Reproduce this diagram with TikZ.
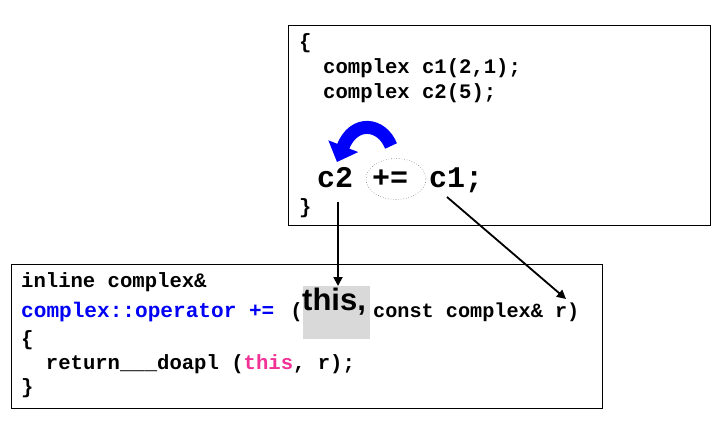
\documentclass[tikz,border=0pt]{standalone}
\usepackage{fontspec}
\usetikzlibrary{arrows.meta,shapes.geometric}
\newfontfamily\cour{Liberation Mono}
\newfontfamily\arialf{Liberation Sans}
\definecolor{codeblue}{RGB}{0,0,245}
\definecolor{codepink}{RGB}{240,50,150}
\definecolor{hlgray}{RGB}{217,217,217}
\definecolor{arrowblue}{RGB}{0,0,250}
\tikzset{
  code/.style={inner sep=0pt, anchor=base west, font=\cour\bfseries\fontsize{20.6}{23}\selectfont},
  bigcode/.style={inner sep=0pt, anchor=base west, font=\cour\bfseries\fontsize{30}{32}\selectfont},
  panel/.style={draw=black, line width=1pt},
  pointer/.style={draw=black, line width=1.8pt, -{Triangle[length=9,width=9]}},
}
\begin{document}
\begin{tikzpicture}[x=1pt,y=-1pt]
\useasboundingbox (0,0) rectangle (724,424);
% top panel
\draw[panel] (288,25) rectangle (710,225);
\node[code] (tob) at (299,48) {\{};
\node[code] (tl1) at (323,73) {complex c1(2,1);};
\node[code] (tl2) at (323,98) {complex c2(5);};
\node[code] (tcb) at (299,213) {\}};
\node[bigcode] (c2) at (317,187) {c2};
\node[bigcode] (pe) at (372,187) {+=};
\node[bigcode] (c1) at (429,187) {c1;};
\node[draw=gray, dotted, line width=0.6pt, ellipse, minimum width=60, minimum height=41, inner sep=0pt] (opell) at (396,179) {};
\draw[arrowblue, line width=13pt, -{Triangle[length=17,width=31]}] (391,146) .. controls (382,123) and (354,119) .. (337,162);
% bottom panel
\draw[panel] (11,264) rectangle (602,408);
\node[code] (b1) at (21,287) {inline complex\&};
\node[code, text=codeblue, font=\cour\bfseries\fontsize{21.1}{23}\selectfont] (b2) at (21,317) {complex::operator +=};
\node[code, anchor=base east] (b2p) at (303,317) {(};
\node[fill=hlgray, minimum width=67, minimum height=53, inner sep=0pt, anchor=north west] (thisbox) at (303,286) {};
\node[inner sep=0pt, anchor=base west, font=\arialf\bfseries\fontsize{31}{33}\selectfont] (thist) at (302,310) {this,};
\node[code, font=\cour\bfseries\fontsize{20.2}{23}\selectfont] (b2c) at (373,317) {const complex\& r)};
\node[code] (b3) at (21,345) {\{};
\node[code] (b4) at (21,369) {\ \ return\_\_\_doapl (\textcolor{codepink}{this}, r);};
\node[code] (b5) at (21,393) {\}};
% pointers
\coordinate (s1) at (338,202);
\coordinate (s2) at (447,197);
\coordinate (e2) at (566,299);
\draw[pointer] (s1) -- (s1 |- thisbox.north);
\draw[pointer] (s2) -- (e2);
\end{tikzpicture}
\end{document}
